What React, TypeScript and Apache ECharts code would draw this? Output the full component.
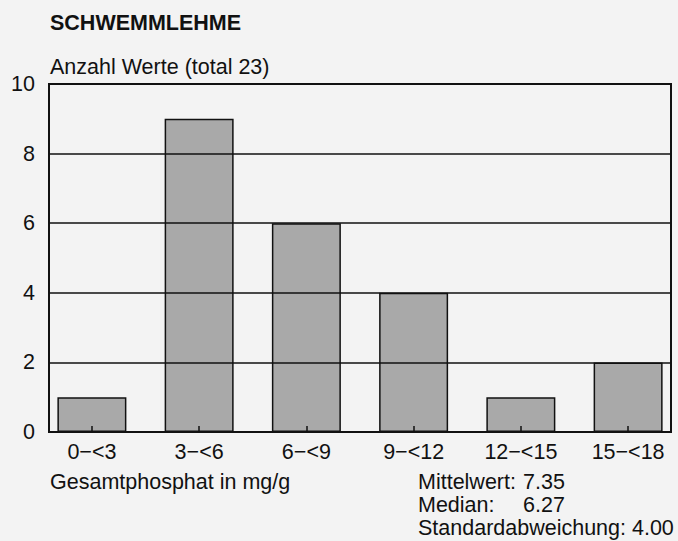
import React, { useEffect, useRef } from "react";
import * as echarts from "echarts";

const title = "SCHWEMMLEHME";
const yTitle = "Anzahl Werte (total 23)";
const xTitle = "Gesamtphosphat in mg/g";
const binStarts = [0, 3, 6, 9, 12, 15];
const binWidth = 3;
const categories = ["0−<3", "3−<6", "6−<9", "9−<12", "12−<15", "15−<18"];
const counts = [1, 9, 6, 4, 1, 2];
const statLabels = ["Mittelwert:", "Median:"];
const statValues = ["7.35", "6.27"];
const stdText = "Standardabweichung: 4.00";

const FONT = '"Liberation Sans", Arial, Helvetica, sans-serif';
const FS = 21.5;
const INK = "#111111";

export default function App() {
  const ref = useRef<HTMLDivElement>(null);
  useEffect(() => {
    if (!ref.current) return;
    const chart = echarts.init(ref.current, undefined, { renderer: "svg" });
    const centers = binStarts.map((s) => s + binWidth / 2);
    const labelFor = (v: number) => {
      const i = centers.findIndex((c) => Math.abs(c - v) < 1e-6);
      return i >= 0 ? categories[i] : "";
    };
    chart.setOption({
      animation: false,
      backgroundColor: "#f3f3f3",
      textStyle: { fontFamily: FONT },
      grid: {
        left: 49,
        right: 7,
        top: 84,
        bottom: 109,
        show: true,
        borderColor: INK,
        borderWidth: 2,
        backgroundColor: "transparent",
      },
      xAxis: {
        type: "value",
        min: 0.3,
        max: 17.7,
        z: 3,
        splitLine: { show: false },
        axisLine: { show: true, lineStyle: { color: INK, width: 2 } },
        axisTick: {
          show: true,
          inside: true,
          length: 6,
          customValues: centers,
          lineStyle: { color: INK, width: 1.5 },
        },
        axisLabel: {
          customValues: centers,
          formatter: (v: number) => labelFor(v),
          fontSize: FS,
          color: INK,
          fontFamily: FONT,
          margin: 9,
        },
      },
      yAxis: {
        type: "value",
        min: 0,
        max: 10,
        interval: 2,
        z: 3,
        axisLine: { show: false },
        axisTick: { show: false },
        splitLine: { show: true, lineStyle: { color: INK, width: 1.5 } },
        axisLabel: { fontSize: FS, color: INK, fontFamily: FONT, margin: 14 },
      },
      series: [
        {
          type: "bar",
          data: centers.map((c, i) => [c, counts[i]]),
          barWidth: 69,
          itemStyle: { color: "#a9a9a9", borderColor: INK, borderWidth: 1.5 },
          z: 2,
        },
      ],
      graphic: [
        {
          type: "text",
          x: 50,
          y: 23,
          style: { text: title, font: `bold ${FS}px ${FONT}`, fill: INK, verticalAlign: "middle" },
        },
        {
          type: "text",
          x: 50,
          y: 67,
          style: { text: yTitle, font: `${FS}px ${FONT}`, fill: INK, verticalAlign: "middle" },
        },
        {
          type: "text",
          x: 50,
          y: 482,
          style: { text: xTitle, font: `${FS}px ${FONT}`, fill: INK, verticalAlign: "middle" },
        },
        ...statLabels.map((t, i) => ({
          type: "text",
          x: 418,
          y: 482 + i * 23,
          style: { text: t, font: `${FS}px ${FONT}`, fill: INK, verticalAlign: "middle" },
        })),
        ...statValues.map((t, i) => ({
          type: "text",
          x: 523,
          y: 482 + i * 23,
          style: { text: t, font: `${FS}px ${FONT}`, fill: INK, verticalAlign: "middle" },
        })),
        {
          type: "text",
          x: 418,
          y: 528,
          style: { text: stdText, font: `${FS}px ${FONT}`, fill: INK, verticalAlign: "middle" },
        },
      ],
    });
    return () => chart.dispose();
  }, []);
  return (
    <div
      ref={ref}
      style={{ position: "fixed", left: 0, top: 0, width: 678, height: 541, background: "#f3f3f3" }}
    />
  );
}
